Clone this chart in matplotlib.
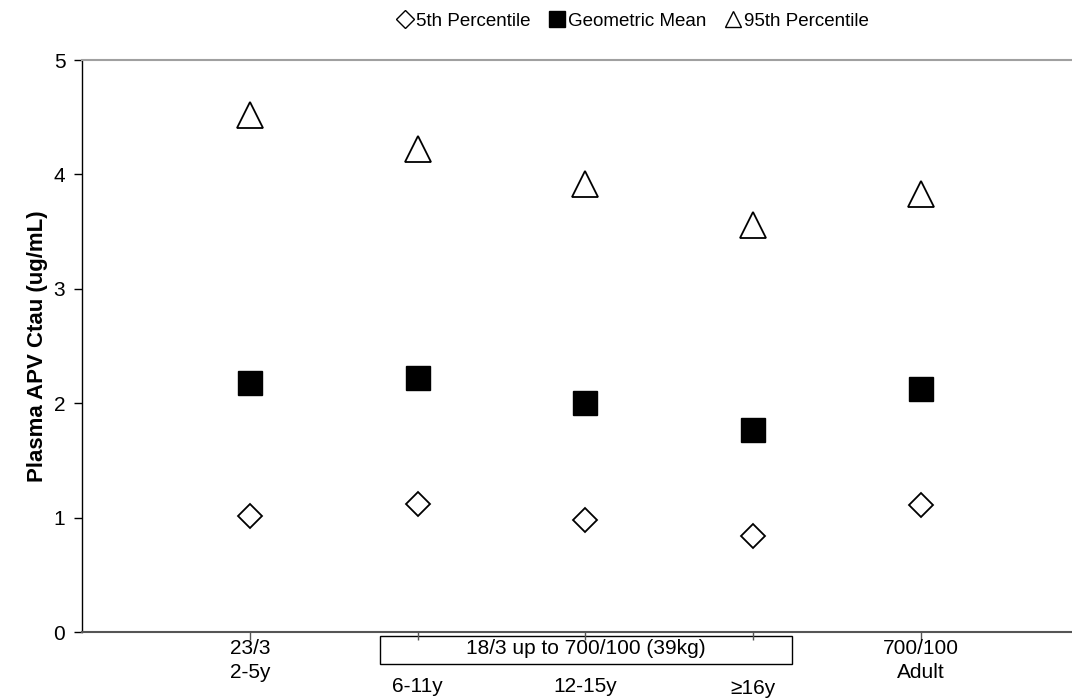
import matplotlib.pyplot as plt
from matplotlib.lines import Line2D
from matplotlib.patches import Rectangle

plt.rcParams['font.family'] = ['Liberation Sans', 'DejaVu Sans']

# Data
groups = ['2-5y', '6-11y', '12-15y', '\u226516y', 'Adult']
dose_top = ['23/3', '', '', '', '700/100']
p5 = [1.01, 1.12, 0.98, 0.84, 1.11]
geo_mean = [2.18, 2.22, 2.00, 1.77, 2.12]
p95 = [4.52, 4.22, 3.92, 3.56, 3.83]
x = [1, 2, 3, 4, 5]

fig = plt.figure(figsize=(10.72, 6.98), dpi=100)
ax_h = 632 - 60
ax = fig.add_axes([82 / 1072, 1 - 632 / 698, 1 - 82 / 1072, ax_h / 698])

ax.plot(x, p95, linestyle='none', marker='^', markersize=18.5,
        markerfacecolor='white', markeredgecolor='black', markeredgewidth=1.3)
ax.plot(x, geo_mean, linestyle='none', marker='s', markersize=17.5,
        markerfacecolor='black', markeredgecolor='black')
ax.plot(x, p5, linestyle='none', marker='D', markersize=12.5,
        markerfacecolor='white', markeredgecolor='black', markeredgewidth=1.3)

ax.set_xlim(0, 5.9)
ax.set_ylim(0, 5)
ax.set_yticks([0, 1, 2, 3, 4, 5])
ax.set_xticks(x)
ax.set_xticklabels([])
ax.tick_params(axis='y', labelsize=15, length=6, width=1, direction='out', pad=6)
ax.tick_params(axis='x', length=6, width=1, direction='out', colors='#555555')

ax.spines['right'].set_visible(False)
ax.spines['top'].set_color('#a0a0a0')
ax.spines['top'].set_linewidth(1.5)
ax.spines['bottom'].set_color('#555555')
ax.spines['bottom'].set_linewidth(1.5)
ax.spines['left'].set_linewidth(1)

ax.set_ylabel('Plasma APV Ctau (ug/mL)', fontsize=16, fontweight='bold', labelpad=4)

# category labels under the axis (offsets in pixels below the axis line)
trans = ax.get_xaxis_transform()
group_off = [40, 54, 54, 57, 40]
for xi, top, grp, off in zip(x, dose_top, groups, group_off):
    if top:
        ax.text(xi, -17 / ax_h, top, transform=trans, ha='center', va='center', fontsize=15)
    ax.text(xi, -off / ax_h, grp, transform=trans, ha='center', va='center', fontsize=15)

# shared dose box for the three middle groups
box = Rectangle((1.777, -32 / ax_h), 4.234 - 1.777, 28 / ax_h, transform=trans,
                fill=False, edgecolor='black', linewidth=1, clip_on=False)
ax.add_patch(box)
ax.text(3.0, -17 / ax_h, '18/3 up to 700/100 (39kg)', transform=trans, ha='center',
        va='center', fontsize=15)

handles = [
    Line2D([], [], linestyle='none', marker='D', markersize=9, markerfacecolor='white',
           markeredgecolor='black'),
    Line2D([], [], linestyle='none', marker='s', markersize=12, markerfacecolor='black',
           markeredgecolor='black'),
    Line2D([], [], linestyle='none', marker='^', markersize=11, markerfacecolor='white',
           markeredgecolor='black'),
]
fig.legend(handles, ['5th Percentile', 'Geometric Mean', '95th Percentile'],
           loc='center', bbox_to_anchor=(632 / 1072, 1 - 21 / 698), ncol=3,
           frameon=False, fontsize=13.5, handletextpad=0.1, columnspacing=0.9,
           handlelength=1.0)

fig.savefig('out.png', dpi=100)
